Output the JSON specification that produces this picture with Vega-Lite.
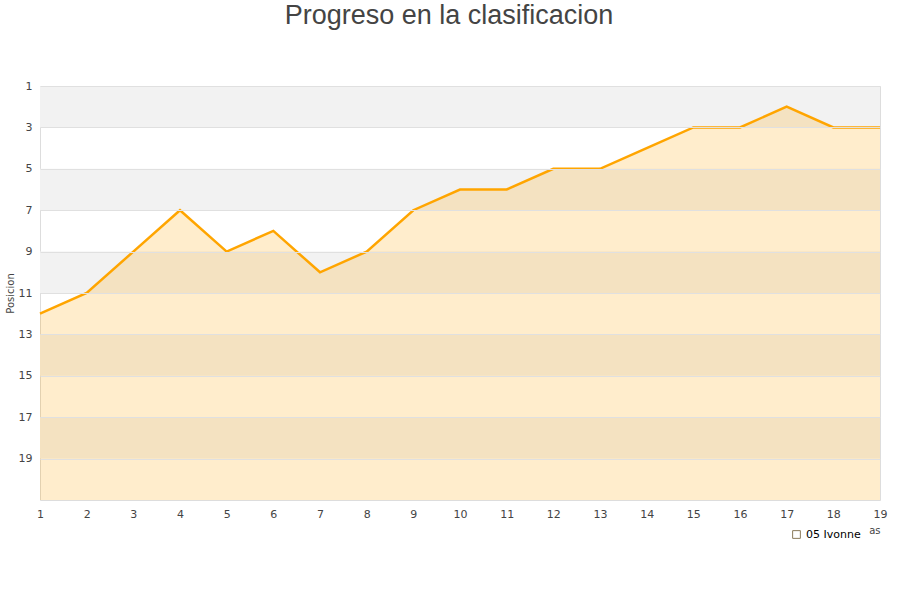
{
  "$schema": "https://vega.github.io/schema/vega-lite/v6.json",
  "autosize": "none",
  "width": 840,
  "height": 414,
  "padding": {"left": 40, "top": 86, "right": 20, "bottom": 100},
  "background": "white",
  "title": {
    "text": "Progreso en la clasificacion",
    "font": "Liberation Sans",
    "fontSize": 27,
    "fontWeight": "normal",
    "color": "#444444",
    "anchor": "middle",
    "dx": -11,
    "offset": 50
  },
  "config": {
    "view": {"stroke": "#dddddd", "strokeWidth": 1},
    "font": "DejaVu Sans"
  },
  "datasets": {
    "bands": [
      {"y0": 1, "y1": 3},
      {"y0": 5, "y1": 7},
      {"y0": 9, "y1": 11},
      {"y0": 13, "y1": 15},
      {"y0": 17, "y1": 19}
    ],
    "pos": [
      {"jornada": 1, "posicion": 12, "serie": "05 Ivonne"},
      {"jornada": 2, "posicion": 11, "serie": "05 Ivonne"},
      {"jornada": 3, "posicion": 9, "serie": "05 Ivonne"},
      {"jornada": 4, "posicion": 7, "serie": "05 Ivonne"},
      {"jornada": 5, "posicion": 9, "serie": "05 Ivonne"},
      {"jornada": 6, "posicion": 8, "serie": "05 Ivonne"},
      {"jornada": 7, "posicion": 10, "serie": "05 Ivonne"},
      {"jornada": 8, "posicion": 9, "serie": "05 Ivonne"},
      {"jornada": 9, "posicion": 7, "serie": "05 Ivonne"},
      {"jornada": 10, "posicion": 6, "serie": "05 Ivonne"},
      {"jornada": 11, "posicion": 6, "serie": "05 Ivonne"},
      {"jornada": 12, "posicion": 5, "serie": "05 Ivonne"},
      {"jornada": 13, "posicion": 5, "serie": "05 Ivonne"},
      {"jornada": 14, "posicion": 4, "serie": "05 Ivonne"},
      {"jornada": 15, "posicion": 3, "serie": "05 Ivonne"},
      {"jornada": 16, "posicion": 3, "serie": "05 Ivonne"},
      {"jornada": 17, "posicion": 2, "serie": "05 Ivonne"},
      {"jornada": 18, "posicion": 3, "serie": "05 Ivonne"},
      {"jornada": 19, "posicion": 3, "serie": "05 Ivonne"}
    ]
  },
  "layer": [
    {
      "data": {"name": "bands"},
      "mark": {"type": "rect", "color": "#f2f2f2"},
      "encoding": {
        "y": {
          "field": "y0", "type": "quantitative",
          "scale": {"domain": [1, 21], "reverse": true, "nice": false, "zero": false},
          "axis": {
            "values": [1,3,5,7,9,11,13,15,17,19],
            "grid": true, "gridColor": "#e0e0e0", "gridWidth": 1, "zindex": 1,
            "domain": false, "ticks": false,
            "labelFont": "DejaVu Sans", "labelFontSize": 11, "labelColor": "#444444", "labelPadding": 8,
            "title": "Posicion", "titleFont": "DejaVu Sans", "titleFontSize": 10, "titleFontWeight": "normal",
            "titleColor": "#444444", "titlePadding": 3
          }
        },
        "y2": {"field": "y1"}
      }
    },
    {
      "data": {"name": "pos"},
      "mark": {"type": "area", "color": "#ffa500", "opacity": 0.2},
      "encoding": {
        "x": {
          "field": "jornada", "type": "quantitative",
          "scale": {"domain": [1, 19], "nice": false, "zero": false},
          "axis": {
            "values": [1,2,3,4,5,6,7,8,9,10,11,12,13,14,15,16,17,18,19],
            "grid": false, "domain": false, "ticks": false,
            "labelFont": "DejaVu Sans", "labelFontSize": 11, "labelColor": "#444444", "labelPadding": 8,
            "labelFlush": false,
            "title": "Jornadas", "titleFont": "DejaVu Sans", "titleFontSize": 10, "titleFontWeight": "normal",
            "titleColor": "#444444", "titleAnchor": "end", "titlePadding": 6
          }
        },
        "y": {"field": "posicion", "type": "quantitative"},
        "y2": {"datum": 21}
      }
    },
    {
      "data": {"name": "pos"},
      "mark": {"type": "line", "color": "#ffa500", "strokeWidth": 2.5},
      "encoding": {
        "x": {"field": "jornada", "type": "quantitative"},
        "y": {"field": "posicion", "type": "quantitative"}
      }
    },
    {
      "data": {"name": "pos"},
      "mark": {"type": "point", "filled": false, "stroke": "#8a7a5a", "strokeWidth": 1, "size": 0, "opacity": 1},
      "encoding": {
        "x": {"field": "jornada", "type": "quantitative"},
        "y": {"field": "posicion", "type": "quantitative"},
        "shape": {
          "field": "serie", "type": "nominal",
          "scale": {"range": ["square"]},
          "legend": {
            "orient": "none", "legendX": 743, "legendY": 435,
            "title": null, "symbolSize": 60,
            "labelFont": "DejaVu Sans", "labelFontSize": 11, "labelColor": "#000000",
            "fillColor": "white", "padding": 8,
            "symbolStrokeColor": "#8a7a5a", "symbolStrokeWidth": 1,
            "encode": {"symbols": {"update": {"fill": {"value": "#ffe4b5"}, "fillOpacity": {"value": 1}, "stroke": {"value": "#8a7a5a"}, "strokeWidth": {"value": 1}}}}
          }
        }
      }
    }
  ]
}
